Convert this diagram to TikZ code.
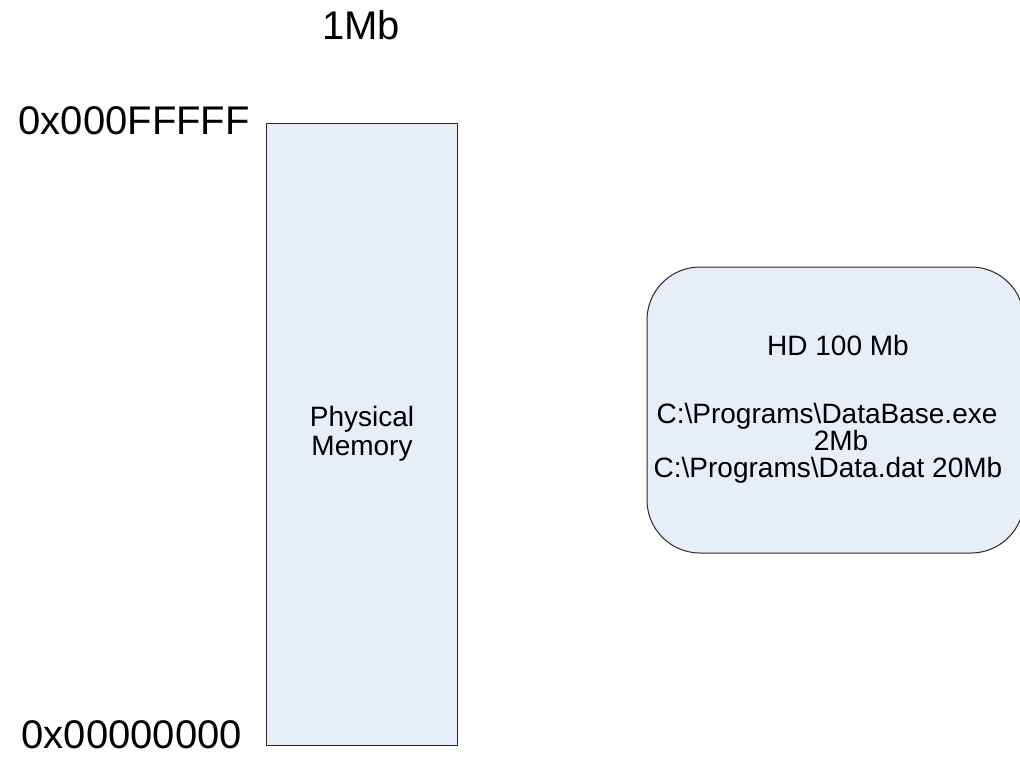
\documentclass[tikz,border=0pt]{standalone}
\usepackage{fontspec}
\setmainfont{Liberation Sans}
\definecolor{boxfill}{RGB}{232,238,247}
\definecolor{boxline}{RGB}{40,40,40}
\begin{document}
\begin{tikzpicture}[x=1pt,y=-1pt,
  bigtxt/.style={anchor=base,inner sep=0pt,font=\fontsize{40}{47}\selectfont},
  smalltxt/.style={anchor=base,inner sep=0pt,font=\fontsize{28}{33}\selectfont},
  membox/.style={draw=boxline,line width=1pt,fill=boxfill},
  diskbox/.style={draw=boxline,line width=1pt,fill=boxfill,rounded corners=53pt}]
\useasboundingbox (0,0) rectangle (1020,762);
\clip (0,0) rectangle (1020,762);
% physical memory block
\draw[membox] (266,124) rectangle (457,745);
\node[smalltxt] (phys) at (362,426) {Physical};
\node[smalltxt] (mem) at (362,455) {Memory};
% address labels
\node[bigtxt] (size) at (361,40) {1Mb};
\node[bigtxt,anchor=base east] (hi) at (250,135) {0x000FFFFF};
\node[bigtxt,anchor=base east] (lo) at (242,748) {0x00000000};
% hard disk
\draw[diskbox] (647,267) rectangle (1024,553);
\node[smalltxt] (hd) at (838,355) {HD 100 Mb};
\node[smalltxt] (f1) at (827,423) {C:\textbackslash Programs\textbackslash DataBase.exe};
\node[smalltxt] (f1s) at (841,450) {2Mb};
\node[smalltxt] (f2) at (828,477) {C:\textbackslash Programs\textbackslash Data.dat 20Mb};
\end{tikzpicture}
\end{document}
